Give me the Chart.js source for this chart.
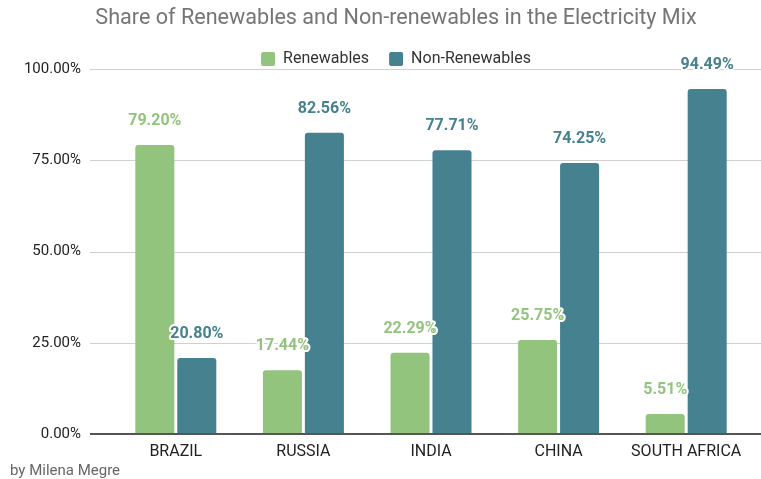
<!DOCTYPE html>
<html>
<head>
<meta charset="utf-8">
<script src="https://cdn.jsdelivr.net/npm/chart.js@4/dist/chart.umd.min.js"></script>
<style>
  html, body { margin: 0; padding: 0; background: #ffffff; }
  #wrap { width: 761px; height: 479px; position: relative; }
</style>
</head>
<body>
<div id="wrap"><canvas id="c"></canvas></div>
<script>
const categories = ['BRAZIL', 'RUSSIA', 'INDIA', 'CHINA', 'SOUTH AFRICA'];
const renewables = [79.20, 17.44, 22.29, 25.75, 5.51];
const nonRenewables = [20.80, 82.56, 77.71, 74.25, 94.49];
const seriesNames = ['Renewables', 'Non-Renewables'];
const yTicks = [0, 25, 50, 75, 100];
const titleText = 'Share of Renewables and Non-renewables in the Electricity Mix';
const creditText = 'by Milena Megre';

const GREEN = '#93c47d';
const TEAL = '#45818e';
const FONT = 'Roboto, "Noto Sans", sans-serif';

const gridPlugin = {
  id: 'gridPlugin',
  afterLayout(chart) {
    const t = chart.titleBlock, l = chart.legend;
    if (t) { t.left += 16; t.right += 16; t.top += 7; t.bottom += 7; }
    if (l) { l.left += 16; l.right += 16; l.top += 8; l.bottom += 8; }
  },
  beforeDatasetsDraw(chart) {
    const ctx = chart.ctx, y = chart.scales.y;
    ctx.save();
    ctx.strokeStyle = '#d0d0d0';
    ctx.lineWidth = 1;
    y.ticks.forEach(t => {
      if (t.value === 0) return;
      const py = Math.round(y.getPixelForValue(t.value)) + 0.5;
      ctx.beginPath(); ctx.moveTo(90, py); ctx.lineTo(761, py); ctx.stroke();
    });
    ctx.restore();
  },
  afterDatasetsDraw(chart) {
    const ctx = chart.ctx, y = chart.scales.y;
    ctx.save();
    const p0 = y.getPixelForValue(0);
    ctx.strokeStyle = '#555555';
    ctx.lineWidth = 2;
    ctx.beginPath(); ctx.moveTo(90, p0); ctx.lineTo(761, p0); ctx.stroke();
    ctx.font = 'bold 16px ' + FONT;
    ctx.textAlign = 'center';
    ctx.textBaseline = 'middle';
    ctx.lineJoin = 'round';
    chart.data.datasets.forEach((ds, di) => {
      const meta = chart.getDatasetMeta(di);
      meta.data.forEach((bar, i) => {
        const txt = ds.data[i].toFixed(2) + '%';
        const tx = bar.x, ty = bar.y - 24;
        ctx.lineWidth = 4;
        ctx.strokeStyle = '#ffffff';
        ctx.strokeText(txt, tx, ty);
        ctx.fillStyle = ds.backgroundColor;
        ctx.fillText(txt, tx, ty);
      });
    });
    ctx.restore();
  }
};

new Chart(document.getElementById('c'), {
  type: 'bar',
  data: {
    labels: categories,
    datasets: [
      { label: seriesNames[0], data: renewables, backgroundColor: GREEN, borderRadius: 3, borderSkipped: 'start' },
      { label: seriesNames[1], data: nonRenewables, backgroundColor: TEAL, borderRadius: 3, borderSkipped: 'start' }
    ]
  },
  options: {
    responsive: true,
    maintainAspectRatio: false,
    animation: false,
    categoryPercentage: 0.658,
    barPercentage: 0.93,
    layout: { padding: { left: 10, right: 11, top: 0, bottom: 0 } },
    plugins: {
      title: {
        display: true,
        text: titleText,
        color: '#757575',
        font: { family: FONT, size: 21.6, weight: 'normal', lineHeight: 1.065 },
        padding: { top: 0, bottom: 0 }
      },
      legend: {
        display: true,
        position: 'top',
        align: 'center',
        labels: {
          boxWidth: 14,
          boxHeight: 14,
          padding: 20,
          color: '#333333',
          font: { family: FONT, size: 16 },
          useBorderRadius: true,
          borderRadius: 2
        }
      },
      subtitle: {
        display: true,
        text: creditText,
        position: 'bottom',
        align: 'start',
        color: '#666666',
        font: { family: FONT, size: 15, lineHeight: 1 },
        padding: { top: 0, bottom: 0 }
      },
      tooltip: { enabled: false }
    },
    scales: {
      x: {
        grid: { display: false, drawTicks: false },
        border: { display: false },
        ticks: { color: '#222222', font: { family: FONT, size: 16 }, padding: 8, maxRotation: 0 },
        afterFit(scale) { scale.height = 30; }
      },
      y: {
        min: 0,
        max: 100,
        grid: { display: false, drawTicks: false },
        border: { display: false },
        afterBuildTicks(scale) { scale.ticks = yTicks.map(v => ({ value: v })); },
        ticks: {
          color: '#222222',
          font: { family: FONT, size: 15 },
          padding: 31,
          callback: v => Number(v).toFixed(2) + '%'
        },
        afterFit(scale) { scale.width = 102; }
      }
    }
  },
  plugins: [gridPlugin]
});
</script>
</body>
</html>
